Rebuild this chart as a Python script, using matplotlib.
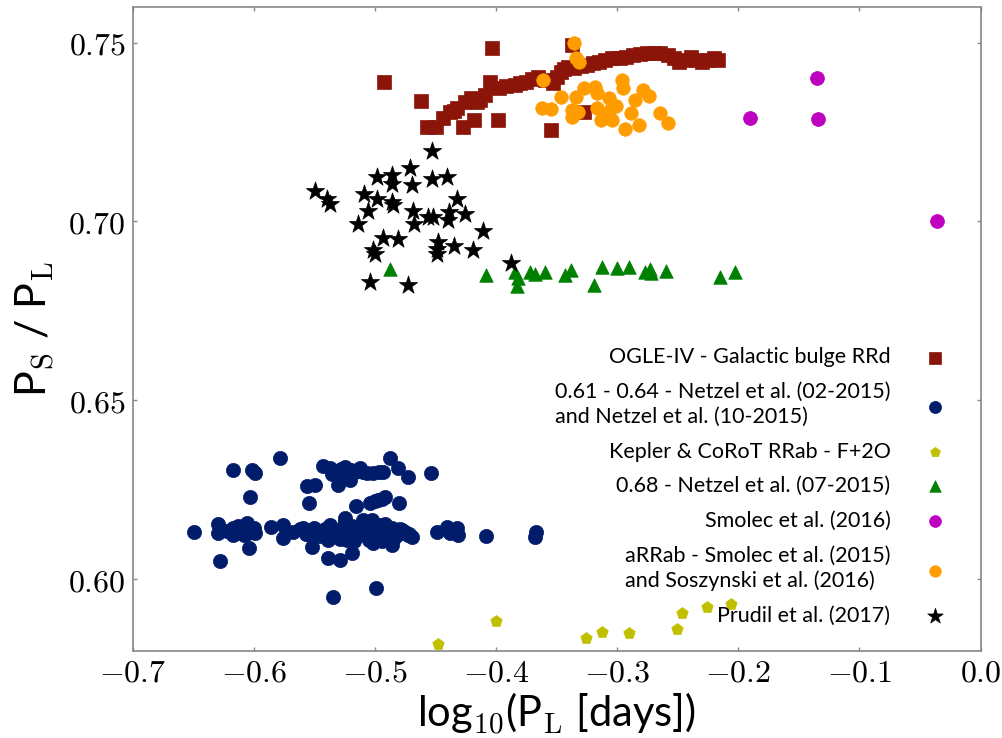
import numpy as np
import matplotlib
matplotlib.use("Agg")
import matplotlib.pyplot as plt
from matplotlib.ticker import FuncFormatter, MultipleLocator

plt.rcParams['mathtext.fontset'] = 'cm'
plt.rcParams['font.family'] = ['Lato', 'DejaVu Sans']

# OGLE-IV Galactic bulge RRd
ogle_x = [-0.4923, -0.4620, -0.4572, -0.4493, -0.4436, -0.4380, -0.4350, -0.4320,
          -0.4257, -0.4273, -0.4210, -0.4178, -0.4160, -0.4130, -0.4090, -0.4050,
          -0.4035, -0.3988, -0.3972, -0.3920, -0.3846, -0.3800, -0.3750, -0.3700,
          -0.3656, -0.3600, -0.3545, -0.3530, -0.3500, -0.3467, -0.3440, -0.3403,
          -0.3372, -0.3360, -0.3300, -0.3277, -0.3246, -0.3200, -0.3150, -0.3100,
          -0.3040, -0.2980, -0.2929, -0.2866, -0.2810, -0.2756, -0.2700, -0.2645,
          -0.2580, -0.2530, -0.2487, -0.2440, -0.2392, -0.2340, -0.2298, -0.2250,
          -0.2203, -0.2171]
ogle_y = [0.7389, 0.7337, 0.7265, 0.7263, 0.7288, 0.7306, 0.7309, 0.7318,
          0.7334, 0.7265, 0.7345, 0.7283, 0.7335, 0.7339, 0.7352, 0.7390,
          0.7485, 0.7283, 0.7372, 0.7378, 0.7381, 0.7388, 0.7390, 0.7398,
          0.7404, 0.7395, 0.7255, 0.7386, 0.7405, 0.7418, 0.7425, 0.7432,
          0.7493, 0.7428, 0.7435, 0.7306, 0.7437, 0.7442, 0.7446, 0.7450,
          0.7456, 0.7458, 0.7460, 0.7465, 0.7468, 0.7471, 0.7470, 0.7470,
          0.7465, 0.7458, 0.7446, 0.7452, 0.7460, 0.7450, 0.7446, 0.7452,
          0.7456, 0.7451]

# 0.61 - 0.64, Netzel et al. 2015
netzel_x = [-0.6491, -0.6293, -0.6293, -0.6279, -0.6220, -0.6170, -0.6170, -0.6170,
            -0.6130, -0.6110, -0.6080, -0.6059, -0.6046, -0.6037, -0.6032, -0.6018,
            -0.6000, -0.5990, -0.5990, -0.5861, -0.5784, -0.5762, -0.5757, -0.5674,
            -0.5620, -0.5592, -0.5570, -0.5559, -0.5542, -0.5536, -0.5522, -0.5500,
            -0.5495, -0.5454, -0.5450, -0.5427, -0.5410, -0.5390, -0.5385, -0.5371,
            -0.5371, -0.5370, -0.5355, -0.5350, -0.5344, -0.5320, -0.5316, -0.5303,
            -0.5290, -0.5289, -0.5289, -0.5280, -0.5270, -0.5250, -0.5247, -0.5247,
            -0.5233, -0.5230, -0.5220, -0.5206, -0.5200, -0.5192, -0.5190, -0.5179,
            -0.5170, -0.5165, -0.5157, -0.5150, -0.5124, -0.5120, -0.5100, -0.5100,
            -0.5096, -0.5082, -0.5068, -0.5060, -0.5050, -0.5041, -0.5030, -0.5027,
            -0.5020, -0.5014, -0.5000, -0.5000, -0.4991, -0.4980, -0.4972, -0.4970,
            -0.4958, -0.4950, -0.4940, -0.4940, -0.4931, -0.4920, -0.4917, -0.4903,
            -0.4903, -0.4890, -0.4876, -0.4862, -0.4860, -0.4849, -0.4840, -0.4820,
            -0.4807, -0.4799, -0.4790, -0.4779, -0.4750, -0.4725, -0.4725, -0.4720,
            -0.4697, -0.4537, -0.4490, -0.4408, -0.4381, -0.4325, -0.4312, -0.4083,
            -0.3670, -0.3679]
netzel_y = [0.6133, 0.6155, 0.6130, 0.6051, 0.6135, 0.6306, 0.6143, 0.6124,
            0.6150, 0.6140, 0.6125, 0.6157, 0.6129, 0.6087, 0.6231, 0.6306,
            0.6145, 0.6296, 0.6130, 0.6146, 0.6338, 0.6152, 0.6115, 0.6133,
            0.6140, 0.6143, 0.6128, 0.6261, 0.6213, 0.6124, 0.6091, 0.6145,
            0.6264, 0.6133, 0.6120, 0.6317, 0.6140, 0.6110, 0.6059, 0.6152,
            0.6119, 0.6312, 0.6295, 0.6135, 0.5950, 0.6125, 0.6301, 0.6264,
            0.6112, 0.6054, 0.6138, 0.6308, 0.6145, 0.6160, 0.6315, 0.6171,
            0.6110, 0.6290, 0.6130, 0.6278, 0.6305, 0.6073, 0.6150, 0.6133,
            0.6108, 0.6301, 0.6205, 0.6125, 0.6310, 0.6140, 0.6165, 0.6300,
            0.6157, 0.6124, 0.6296, 0.6130, 0.6110, 0.6214, 0.6148, 0.6166,
            0.6298, 0.6101, 0.6135, 0.6220, 0.5975, 0.6120, 0.6222, 0.6300,
            0.6152, 0.6140, 0.6226, 0.6108, 0.6301, 0.6155, 0.6231, 0.6143,
            0.6119, 0.6130, 0.6338, 0.6096, 0.6145, 0.6138, 0.6115, 0.6125,
            0.6310, 0.6213, 0.6140, 0.6138, 0.6132, 0.6285, 0.6124, 0.6128,
            0.6119, 0.6298, 0.6133, 0.6147, 0.6129, 0.6143, 0.6124, 0.6121,
            0.6133, 0.6119]

# Kepler & CoRoT RRab, F+2O
kepler_x = [-0.4482, -0.4001, -0.3260, -0.3128, -0.2903, -0.2509, -0.2463, -0.2261, -0.2063]
kepler_y = [0.5820, 0.5884, 0.5835, 0.5854, 0.5851, 0.5861, 0.5907, 0.5924, 0.5931]

# 0.68, Netzel et al. (07-2015)
n68_x = [-0.4876, -0.4079, -0.3846, -0.3820, -0.3830, -0.3719, -0.3681, -0.3593,
         -0.3429, -0.3381, -0.3192, -0.3126, -0.3002, -0.2904, -0.2771, -0.2724,
         -0.2730, -0.2594, -0.2152, -0.2029]
n68_y = [0.6866, 0.6850, 0.6860, 0.6841, 0.6820, 0.6858, 0.6853, 0.6860,
         0.6850, 0.6864, 0.6822, 0.6873, 0.6869, 0.6872, 0.6860, 0.6855,
         0.6866, 0.6862, 0.6846, 0.6860]

# Smolec et al. (2016)
smolec_x = [-0.1902, -0.1349, -0.1343, -0.0361]
smolec_y = [0.7288, 0.7400, 0.7286, 0.7000]

# aRRab, Smolec et al. (2015) and Soszynski et al. (2016)
arrab_x = [-0.3356, -0.3340, -0.3315, -0.3609, -0.3467, -0.3340, -0.3277, -0.3182,
           -0.3166, -0.3071, -0.3040, -0.3624, -0.3545, -0.3372, -0.3324, -0.3372,
           -0.3166, -0.3135, -0.3040, -0.3087, -0.2960, -0.2955, -0.2882, -0.2936,
           -0.2818, -0.2850, -0.2787, -0.2739, -0.2645, -0.2582, -0.3008]
arrab_y = [0.7500, 0.7456, 0.7446, 0.7395, 0.7347, 0.7348, 0.7372, 0.7376,
           0.7358, 0.7344, 0.7320, 0.7316, 0.7313, 0.7311, 0.7306, 0.7292,
           0.7316, 0.7283, 0.7283, 0.7302, 0.7395, 0.7372, 0.7302, 0.7258,
           0.7269, 0.7339, 0.7367, 0.7350, 0.7302, 0.7274, 0.7322]

# Prudil et al. (2017)
prudil_x = [-0.5495, -0.5398, -0.5371, -0.5137, -0.5088, -0.5055, -0.5041, -0.5014,
            -0.5000, -0.4986, -0.4986, -0.4931, -0.4862, -0.4862, -0.4862, -0.4854,
            -0.4807, -0.4725, -0.4711, -0.4697, -0.4683, -0.4677, -0.4560, -0.4532,
            -0.4532, -0.4518, -0.4485, -0.4485, -0.4477, -0.4408, -0.4399, -0.4389,
            -0.4350, -0.4326, -0.4257, -0.4193, -0.4108, -0.3877]
prudil_y = [0.7086, 0.7063, 0.7050, 0.6992, 0.7077, 0.7030, 0.6832, 0.6920,
            0.6908, 0.7123, 0.7063, 0.6953, 0.7130, 0.7106, 0.7055, 0.7046,
            0.6951, 0.6822, 0.7150, 0.7102, 0.7030, 0.6993, 0.7013, 0.7197,
            0.7118, 0.7013, 0.6922, 0.6908, 0.6943, 0.7124, 0.7004, 0.7027,
            0.6931, 0.7064, 0.7021, 0.6920, 0.6974, 0.6883]

fig = plt.figure(figsize=(10.03, 7.38), dpi=100)
ax = fig.add_axes([0.1323, 0.1179, 0.8453, 0.873])

ax.scatter(ogle_x, ogle_y, marker='s', s=95, c='#8c1509', edgecolors='#8c1509', linewidths=0.5,
           label='OGLE-IV - Galactic bulge RRd')
ax.scatter(netzel_x, netzel_y, marker='o', s=105, c='#001c6b', edgecolors='#001c6b', linewidths=0.5,
           label='0.61 - 0.64 - Netzel et al. (02-2015)\nand Netzel et al. (10-2015)')
ax.scatter(kepler_x, kepler_y, marker='p', s=75, c='#c0c000', edgecolors='#c0c000', linewidths=0.5,
           label='Kepler & CoRoT RRab - F+2O')
ax.scatter(n68_x, n68_y, marker='^', s=95, c='#008000', edgecolors='#008000', linewidths=0.5,
           label='0.68 - Netzel et al. (07-2015)')
ax.scatter(smolec_x, smolec_y, marker='o', s=100, c='#bf00bf', edgecolors='#bf00bf', linewidths=0.5,
           label='Smolec et al. (2016)')
ax.scatter(arrab_x, arrab_y, marker='o', s=95, c='#ff9c00', edgecolors='#ff9c00', linewidths=0.5,
           label='aRRab - Smolec et al. (2015)\nand Soszynski et al. (2016)')
ax.scatter(prudil_x, prudil_y, marker='*', s=190, c='k', edgecolors='k', linewidths=0.5,
           label='Prudil et al. (2017)')

ax.set_xlim(-0.7, 0.0)
ax.set_ylim(0.58, 0.76)
ax.xaxis.set_major_locator(MultipleLocator(0.1))
ax.yaxis.set_major_locator(MultipleLocator(0.05))
ax.xaxis.set_major_formatter(FuncFormatter(lambda v, p: r'$%.1f$' % v))
ax.yaxis.set_major_formatter(FuncFormatter(lambda v, p: r'$%.2f$' % v))
ax.tick_params(direction='in', length=3, width=1, color='#888888',
               top=True, right=True, labelsize=23, pad=5)
for sp in ax.spines.values():
    sp.set_color('#888888')
    sp.set_linewidth(1.2)

ax.set_xlabel(r'log$_{10}$(P$_\mathrm{L}$ [days])', fontsize=30, labelpad=2)
ax.set_ylabel(r'P$_\mathrm{S}$ / P$_\mathrm{L}$', fontsize=31, labelpad=8)

leg = ax.legend(loc='lower right', bbox_to_anchor=(0.975, 0.026), frameon=False,
                markerfirst=False, scatterpoints=1, fontsize=15.5, labelspacing=0.68,
                handlelength=1.5, handletextpad=1.3, borderaxespad=0.0, markerscale=0.85)
for t in leg.get_texts():
    t.set_linespacing(1.3)

fig.savefig('out.png', dpi=100)
